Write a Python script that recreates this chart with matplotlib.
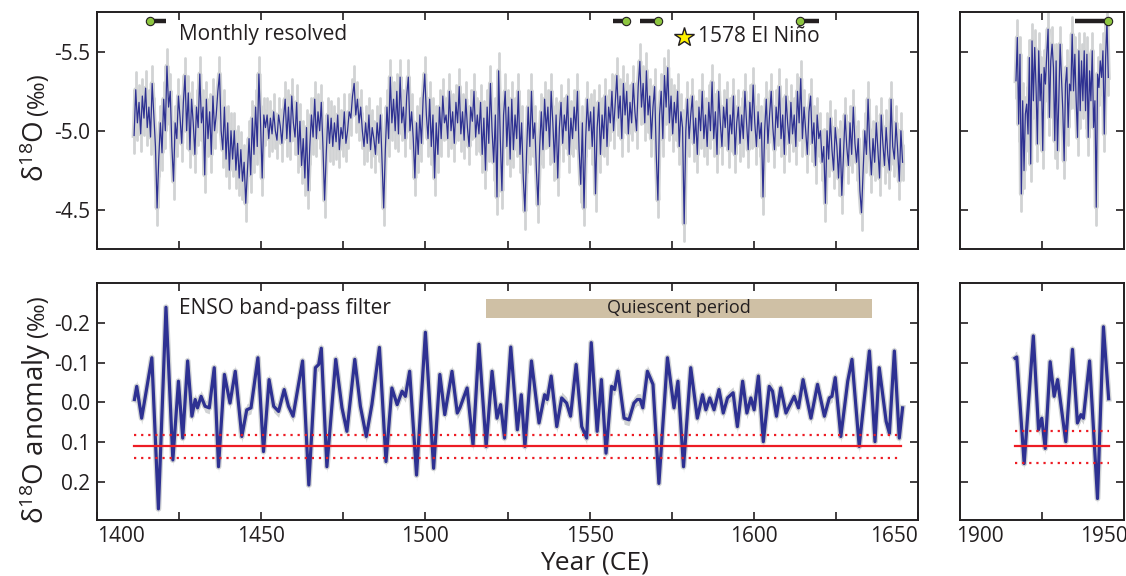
import numpy as np
import matplotlib
matplotlib.use('Agg')
import matplotlib.pyplot as plt

plt.rcParams['font.family'] = ['Open Sans', 'DejaVu Sans']
plt.rcParams['mathtext.fontset'] = 'custom'
plt.rcParams['mathtext.rm'] = 'Open Sans'
plt.rcParams['mathtext.it'] = 'Open Sans:italic'
plt.rcParams['mathtext.bf'] = 'Open Sans:bold'
plt.rcParams['axes.unicode_minus'] = False

# ---------------- data ----------------
monthly_start = 1411.3
monthly_step = 0.5
d18o_monthly = [
    -4.97, -5.26, -5.05, -5.18, -4.98, -5.22, -5.08, -5.27, -5.02, -5.15,
    -4.96, -5.30, -5.10, -4.90, -4.51, -4.82, -5.05, -4.86, -5.20, -5.00,
    -5.41, -5.15, -5.25, -4.90, -4.68, -5.05, -4.95, -5.22, -5.08, -4.92,
    -5.18, -5.35, -5.00, -5.24, -4.88, -5.20, -5.05, -4.85, -5.15, -5.02,
    -5.36, -5.05, -5.15, -4.72, -5.20, -4.95, -5.12, -4.85, -5.22, -5.00,
    -5.10, -5.25, -5.36, -5.00, -4.88, -5.15, -4.82, -5.05, -4.75, -5.00,
    -4.82, -5.00, -4.75, -4.92, -4.70, -4.88, -4.68, -4.80, -4.54, -4.75,
    -4.95, -4.72, -5.08, -4.85, -5.15, -4.90, -5.36, -5.05, -4.70, -5.10,
    -5.02, -5.10, -4.95, -5.08, -4.98, -5.12, -5.00, -4.94, -5.10, -5.03,
    -4.92, -5.08, -5.20, -4.95, -5.15, -4.93, -5.22, -5.05, -4.96, -5.18,
    -4.85, -5.06, -4.78, -4.95, -4.70, -5.02, -4.62, -4.90, -5.10, -4.96,
    -5.20, -4.95, -5.12, -5.00, -5.18, -4.90, -4.56, -4.85, -5.10, -4.92,
    -5.08, -4.90, -5.05, -4.93, -5.10, -4.88, -5.02, -4.95, -5.12, -4.92,
    -5.00, -5.12, -5.08, -5.22, -5.30, -5.10, -5.20, -5.05, -5.15, -5.00,
    -4.90, -5.05, -4.92, -5.10, -4.88, -5.02, -4.95, -4.85, -5.05, -4.92,
    -5.10, -4.80, -4.51, -4.88, -5.15, -4.95, -5.34, -5.05, -5.20, -5.00,
    -5.25, -4.98, -5.34, -5.05, -5.15, -4.95, -5.22, -5.34, -5.00, -5.12,
    -4.95, -4.70, -5.05, -4.85, -5.10, -4.92, -5.20, -5.36, -5.10, -4.95,
    -5.20, -4.90, -5.10, -4.70, -5.05, -4.85, -5.15, -4.95, -5.22, -5.05,
    -5.10, -4.95, -5.25, -5.00, -5.12, -4.92, -5.18, -5.05, -5.28, -4.98,
    -5.12, -4.94, -5.20, -5.02, -4.90, -5.15, -5.06, -5.25, -4.96, -5.10,
    -4.98, -5.18, -4.85, -5.08, -4.75, -5.15, -4.92, -5.30, -5.00, -4.80,
    -5.10, -4.58, -5.38, -4.95, -4.62, -5.10, -5.25, -4.90, -5.15, -4.82,
    -5.20, -4.88, -5.10, -4.95, -5.25, -4.85, -5.05, -4.70, -4.49, -4.85,
    -5.15, -4.90, -5.25, -4.95, -5.05, -4.75, -4.53, -4.90, -5.12, -4.88,
    -5.20, -5.00, -5.15, -4.90, -5.25, -5.05, -4.80, -5.10, -4.70, -5.02,
    -5.18, -4.92, -5.10, -5.00, -5.22, -4.85, -5.08, -4.95, -5.15, -5.00,
    -5.25, -4.88, -4.66, -5.05, -4.51, -4.95, -5.20, -5.00, -5.12, -4.90,
    -5.15, -4.60, -5.02, -5.18, -4.85, -5.10, -4.95, -5.22, -4.90, -5.15,
    -5.05, -5.25, -5.00, -5.18, -5.35, -5.08, -5.22, -4.95, -5.30, -5.10,
    -5.25, -4.98, -5.18, -5.05, -5.30, -5.12, -5.00, -5.28, -5.44, -5.15,
    -5.30, -5.05, -5.38, -5.10, -5.22, -4.95, -5.15, -5.28, -4.85, -4.56,
    -5.10, -5.25, -4.95, -5.35, -5.15, -5.40, -5.05, -5.22, -4.98, -5.18,
    -5.05, -5.25, -4.90, -5.12, -5.02, -4.41, -5.00, -5.20, -4.95, -5.10,
    -5.22, -4.92, -5.08, -4.85, -5.15, -5.00, -5.25, -4.95, -5.10, -4.90,
    -5.18, -5.00, -5.31, -4.95, -5.12, -4.85, -5.25, -5.05, -4.90, -5.15,
    -5.02, -5.20, -4.88, -5.10, -4.98, -5.22, -4.85, -5.05, -5.15, -4.92,
    -5.10, -4.95, -5.25, -5.05, -4.88, -5.18, -5.00, -5.29, -5.05, -4.90,
    -5.12, -4.95, -5.05, -4.58, -5.00, -5.20, -4.92, -5.10, -5.25, -5.02,
    -4.88, -5.15, -5.02, -5.28, -4.95, -5.10, -4.85, -5.22, -5.05, -4.92,
    -5.18, -4.98, -5.10, -4.90, -5.25, -5.05, -5.33, -4.95, -5.15, -5.00,
    -4.85, -5.12, -5.22, -4.92, -5.05, -4.78, -5.10, -4.95, -5.00, -4.80,
    -4.90, -4.54, -5.00, -4.82, -5.08, -4.88, -4.75, -5.02, -4.90, -4.70,
    -4.95, -4.59, -4.85, -5.10, -4.90, -4.78, -5.05, -4.85, -5.15, -4.92,
    -4.80, -4.95, -4.62, -4.48, -4.75, -5.00, -4.85, -5.20, -4.90, -4.72,
    -4.95, -4.80, -5.05, -4.88, -4.70, -5.10, -4.92, -4.78, -5.02, -4.85,
    -4.75, -5.20, -4.90, -4.82, -5.05, -4.88, -4.68, -5.00, -4.80,
]

modern_start = 1914.5
modern_step = 0.54
d18o_modern = [
    -5.317, -5.591, -5.042, -5.485, -4.599, -5.190, -4.747, -5.106, -5.169, -4.979,
    -5.464, -4.789, -5.570, -5.190, -5.528, -5.274, -4.916, -5.507, -5.190, -5.359,
    -4.874, -5.401, -5.296, -5.485, -5.644, -5.085, -5.443, -5.549, -5.401, -4.937,
    -5.443, -4.874, -5.190, -5.549, -5.338, -5.127, -4.810, -5.296, -5.401, -5.021,
    -5.296, -5.253, -5.612, -5.253, -5.485, -5.190, -4.958, -5.507, -5.127, -5.443,
    -5.190, -5.507, -5.127, -5.485, -4.958, -5.380, -5.190, -5.507, -5.021, -5.190,
    -4.515, -5.359, -5.274, -5.443, -5.338, -5.507, -4.979, -5.464, -5.696, -5.338,
]
# half-width of the grey uncertainty envelope (per mil)
envelope_halfwidth = 0.11

enso_years = [
    1411.4, 1412.1, 1413.6, 1416.7, 1418.7, 1421.0, 1423.1, 1424.8, 1426.1, 1427.6,
    1428.9, 1429.9, 1430.6, 1431.7, 1432.9, 1434.2, 1435.7, 1437.0, 1438.8, 1440.5,
    1442.1, 1444.1, 1445.6, 1446.9, 1449.0, 1450.7, 1452.4, 1453.8, 1455.3, 1457.0,
    1458.3, 1459.7, 1462.6, 1464.5, 1466.5, 1467.5, 1468.3, 1470.0, 1472.7, 1474.6,
    1476.1, 1478.5, 1480.2, 1482.0, 1483.7, 1486.0, 1488.0, 1489.8, 1491.4, 1492.9,
    1493.9, 1495.2, 1497.3, 1500.0, 1502.5, 1504.4, 1505.9, 1508.1, 1509.7, 1510.5,
    1512.7, 1514.5, 1516.3, 1518.5, 1520.3, 1521.8, 1522.9, 1524.1, 1526.0, 1528.0,
    1529.2, 1530.3, 1532.3, 1534.6, 1536.3, 1537.1, 1538.3, 1540.0, 1541.5, 1543.0,
    1544.2, 1545.9, 1547.6, 1549.1, 1550.5, 1552.3, 1553.6, 1555.0, 1556.7, 1557.6,
    1558.6, 1560.5, 1562.0, 1563.5, 1564.5, 1565.4, 1566.2, 1567.6, 1569.3, 1571.1,
    1573.7, 1575.7, 1576.9, 1578.6, 1580.8, 1582.8, 1584.4, 1585.4, 1586.6, 1587.9,
    1589.4, 1590.7, 1592.0, 1593.7, 1595.0, 1596.6, 1597.9, 1599.1, 1600.1, 1601.4,
    1602.9, 1604.7, 1605.7, 1606.9, 1608.2, 1609.8, 1612.3, 1613.6, 1615.0, 1617.4,
    1619.4, 1621.5, 1623.0, 1623.8, 1624.8, 1626.5, 1628.6, 1629.9, 1632.1, 1635.2,
    1636.9, 1638.2, 1640.3, 1641.3, 1642.8, 1644.3, 1645.3,
]
enso_vals = [
    -0.007, -0.040, 0.040, -0.112, 0.268, -0.239, 0.145, -0.053, 0.090, -0.104,
    0.035, -0.007, 0.014, -0.015, 0.010, 0.014, -0.087, 0.162, -0.070, 0.002,
    -0.078, 0.086, 0.019, 0.014, -0.112, 0.124, -0.057, 0.010, 0.023, -0.032,
    0.010, 0.035, -0.104, 0.208, -0.087, -0.095, -0.136, 0.162, -0.108, 0.014,
    0.073, -0.108, 0.010, 0.086, 0.006, -0.138, 0.149, -0.036, 0.006, -0.028,
    -0.015, -0.078, 0.183, -0.176, 0.166, -0.070, 0.031, -0.078, 0.027, 0.014,
    -0.036, 0.107, -0.146, 0.111, -0.078, 0.040, 0.006, 0.090, -0.139, 0.069,
    -0.019, 0.111, -0.104, 0.052, -0.019, -0.007, -0.066, 0.061, -0.011, 0.002,
    0.035, -0.095, 0.061, 0.090, -0.150, 0.073, -0.057, 0.128, -0.040, -0.032,
    -0.078, 0.040, 0.044, 0.002, -0.007, -0.007, 0.014, -0.078, -0.045, 0.204,
    -0.112, 0.014, -0.053, 0.162, -0.087, 0.040, -0.019, 0.019, -0.011, 0.019,
    -0.032, 0.027, -0.011, -0.024, 0.061, -0.053, 0.027, -0.011, 0.019, -0.066,
    0.099, -0.040, -0.028, 0.035, -0.036, 0.027, -0.015, 0.014, -0.057, 0.040,
    -0.045, 0.035, -0.011, -0.015, -0.062, 0.086, -0.053, -0.108, 0.111, -0.129,
    0.099, -0.087, 0.048, 0.078, -0.129, 0.090, 0.014,
]

enso_modern_years = [1914.1, 1914.8, 1917.8, 1921.5, 1923.6, 1924.9, 1926.3, 1928.3, 1929.9, 1931.3,
                     1934.6, 1937.3, 1939.3, 1940.7, 1941.7, 1944.2, 1947.4, 1949.8, 1951.9]
enso_modern_vals = [-0.111, -0.114, 0.154, -0.167, 0.069, 0.040, 0.116, -0.102, -0.015, -0.057,
                    0.099, -0.133, 0.052, 0.031, 0.040, -0.104, 0.242, -0.190, -0.009]
enso_envelope = 0.015

# threshold lines (mean and bounds)
thr_past = [0.111, 0.082, 0.141]
thr_past_span = [1411.4, 1644.8]
thr_modern = [0.111, 0.071, 0.152]
thr_modern_span = [1914.1, 1951.9]

# U-Th dates: dot year, bar start, bar end
date_dot = [1416.0, 1561.0, 1570.7, 1614.0]
date_lo = [1416.0, 1557.0, 1565.2, 1614.0]
date_hi = [1420.9, 1561.6, 1571.6, 1619.8]
date_modern_dot = [1951.8]
date_modern_lo = [1938.3]
date_modern_hi = [1951.9]
date_level = -5.696

elnino_year = 1578.6
elnino_level = -5.595

quiet_span = [1518.6, 1636.0]
quiet_band = [-0.261, -0.213]

past_xticks = [1400, 1450, 1500, 1550, 1600, 1650]
past_minor = [1425, 1475, 1525, 1575, 1625]
modern_xticks = [1900, 1950]
modern_minor = [1925]
top_yticks = [-5.5, -5.0, -4.5]
bot_yticks = [-0.2, -0.1, 0.0, 0.1, 0.2]

# ---------------- style ----------------
BLUE = '#2e3192'
GRAY = '#d1d3d4'
RED = '#ed1c24'
INK = '#231f20'
TAN = '#cfc0a5'
GREEN = '#8dc63f'

W, H = 1126, 576
fig = plt.figure(figsize=(W / 100, H / 100), dpi=100)

def fx(px):
    return px / W

def fy(px_top, px_bot):
    return 1 - px_bot / H, (px_bot - px_top) / H

tb, th = fy(12, 249)
bb, bh = fy(283, 520)
lx, lw_ = fx(97), fx(918 - 97)
rx, rw = fx(960), fx(1124 - 960)

ax_tl = fig.add_axes([lx, tb, lw_, th])
ax_tr = fig.add_axes([rx, tb, rw, th])
ax_bl = fig.add_axes([lx, bb, lw_, bh])
ax_br = fig.add_axes([rx, bb, rw, bh])

def style(ax):
    for s in ax.spines.values():
        s.set_linewidth(1.4)
        s.set_color(INK)
    ax.tick_params(which='both', direction='in', length=6, width=1.2, color=INK,
                   top=True, right=True, labelsize=15, labelcolor=INK, pad=5)

for ax in (ax_tl, ax_tr, ax_bl, ax_br):
    style(ax)

# ---------- top panels ----------
def monthly(ax, t, v):
    ax.vlines(t, v - envelope_halfwidth, v + envelope_halfwidth, color=GRAY, lw=2.0,
              capstyle='round')
    ax.plot(t, v, color=GRAY, lw=3.5)
    ax.plot(t, v, color=BLUE, lw=0.9)

m = np.array(d18o_monthly)
t = monthly_start + monthly_step * np.arange(len(m))
monthly(ax_tl, t, m)

mm = np.array(d18o_modern)
tm = modern_start + modern_step * np.arange(len(mm))
monthly(ax_tr, tm, mm)

for lo, hi, dot in zip(date_lo, date_hi, date_dot):
    ax_tl.plot([lo, hi], [date_level, date_level], color=INK, lw=3.2, solid_capstyle='butt', zorder=5)
    ax_tl.plot([dot], [date_level], 'o', ms=6, mfc=GREEN, mec=INK, mew=0.8, zorder=6)
for lo, hi, dot in zip(date_modern_lo, date_modern_hi, date_modern_dot):
    ax_tr.plot([lo, hi], [date_level, date_level], color=INK, lw=3.2, solid_capstyle='butt', zorder=5)
    ax_tr.plot([dot], [date_level], 'o', ms=6, mfc=GREEN, mec=INK, mew=0.8, zorder=6, clip_on=False)

ax_tl.plot([elnino_year], [elnino_level], marker='*', ms=15, mfc='#fff200', mec=INK, mew=1.0, zorder=6)
ax_tl.text(elnino_year + 4.3, elnino_level, '1578 El Niño', fontsize=15, color=INK,
           ha='left', va='center')
ax_tl.text(0.1, 0.903, 'Monthly resolved', transform=ax_tl.transAxes, fontsize=15,
           color=INK, ha='left', va='center')

for ax in (ax_tl, ax_tr):
    ax.set_ylim(-4.25, -5.753)
    ax.set_yticks(top_yticks)
ax_tl.set_yticklabels(['%.1f' % v for v in top_yticks])
ax_tr.set_yticklabels([])

# ---------- bottom panels ----------
def enso(ax, x, v, thr, span):
    v = np.array(v)
    ax.fill_between(x, v - enso_envelope, v + enso_envelope, color=GRAY, lw=0)
    ax.plot(x, v, color=GRAY, lw=4.2, solid_joinstyle='round')
    ax.plot(x, v, color=BLUE, lw=2.3, solid_joinstyle='round')
    ax.plot(span, [thr[0]] * 2, color=RED, lw=1.6)
    for val in thr[1:]:
        ax.plot(span, [val, val], color=RED, lw=1.6, ls=(0, (1, 2.2)))

enso(ax_bl, enso_years, enso_vals, thr_past, thr_past_span)
enso(ax_br, enso_modern_years, enso_modern_vals, thr_modern, thr_modern_span)

ax_bl.fill_between(quiet_span, quiet_band[0], quiet_band[1], color=TAN, lw=0)
ax_bl.text(np.mean(quiet_span), np.mean(quiet_band), 'Quiescent period', fontsize=13,
           color=INK, ha='center', va='center')
ax_bl.text(0.1, 0.894, 'ENSO band-pass filter', transform=ax_bl.transAxes, fontsize=15,
           color=INK, ha='left', va='center')

for ax in (ax_bl, ax_br):
    ax.set_ylim(0.296, -0.30)
    ax.set_yticks(bot_yticks)
ax_bl.set_yticklabels(['%.1f' % v for v in bot_yticks])
ax_br.set_yticklabels([])

# ---------- x axes ----------
for ax in (ax_tl, ax_bl):
    ax.set_xlim(1400, 1650)
    ax.set_xticks(past_xticks)
    ax.set_xticks(past_minor, minor=True)
    ax.tick_params(which='minor', length=6)
ax_tl.set_xticklabels([])
ax_bl.set_xticklabels([str(v) for v in past_xticks])
labs = ax_bl.get_xticklabels()
labs[0].set_horizontalalignment('left')
labs[-1].set_horizontalalignment('right')

for ax in (ax_tr, ax_br):
    ax.set_xlim(1891.9, 1958.1)
    ax.set_xticks(modern_xticks)
    ax.set_xticks(modern_minor, minor=True)
    ax.tick_params(axis='x', which='major', length=0)
    ax.tick_params(axis='x', which='minor', length=6)
ax_tr.set_xticklabels([])
ax_br.set_xticklabels([str(v) for v in modern_xticks])
ax_br.tick_params(axis='x', which='major', pad=4)
ax_bl.tick_params(axis='x', which='major', pad=4)

fig.text(fx(594), 1 - 569 / H, 'Year (CE)', fontsize=19, color=INK, ha='center', va='baseline')

# ---------- y labels (two sizes) ----------
renderer = fig.canvas.get_renderer()

def split_label(x_px, yc_px, main, unit, fs1, fs2, gap=5):
    t1 = fig.text(0, 0, main, rotation=90, fontsize=fs1, color=INK,
                  ha='left', va='baseline', rotation_mode='anchor')
    t2 = fig.text(0, 0, unit, rotation=90, fontsize=fs2, color=INK,
                  ha='left', va='baseline', rotation_mode='anchor')
    h1 = t1.get_window_extent(renderer).height
    h2 = t2.get_window_extent(renderer).height
    total = h1 + gap + h2
    start = (H - yc_px) - total / 2
    t1.set_position((x_px / W, start / H))
    t2.set_position((x_px / W, (start + h1 + gap) / H))

split_label(44, 128, r'δ$^{18}$O', '(‰)', 20, 17)
split_label(44, 410, r'δ$^{18}$O anomaly', '(‰)', 20, 17)

fig.savefig('out.png', dpi=100)
